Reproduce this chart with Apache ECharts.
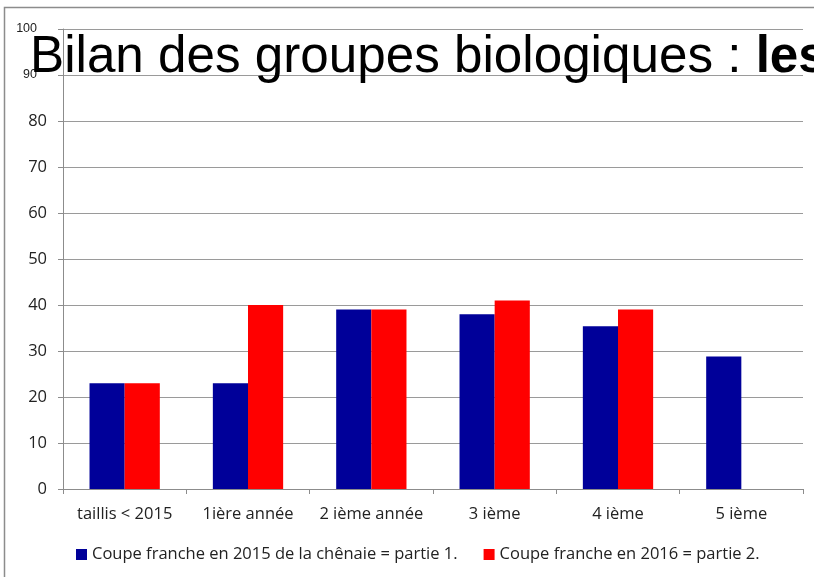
<!DOCTYPE html>
<html>
<head>
<meta charset="utf-8">
<script src="https://cdn.jsdelivr.net/npm/echarts@6/dist/echarts.min.js"></script>
<style>
  html, body { margin: 0; padding: 0; background: #fff; }
  #chart { width: 814px; height: 577px; }
</style>
</head>
<body>
<div id="chart"></div>
<script>
// données
var categories = ['taillis < 2015', '1ière année', '2 ième année', '3 ième', '4 ième', '5 ième'];
var serie2015 = [23, 23, 39, 38, 35.4, 28.8];
var serie2016 = [23, 40, 39, 41, 39, null];
var noms = ['Coupe franche en 2015 de la chênaie = partie 1.', 'Coupe franche en 2016 = partie 2.'];
var yTicks = [0, 10, 20, 30, 40, 50, 60, 70, 80, 90, 100];

var police = '"Open Sans", sans-serif';
var arial = '"Liberation Sans", Arial, sans-serif';

var vm = echarts.init(document.getElementById('chart'));
var option = {
  animation: false,
  backgroundColor: '#fff',
  graphic: [{
    type: 'rect',
    shape: { x: 4.5, y: 7.5, width: 900, height: 700 },
    style: { fill: null, stroke: '#8c8c8c', lineWidth: 1.5 },
    z: 100
  }],
  title: {
    text: '{n|Bilan des groupes biologiques : }{b|les}',
    left: 25,
    top: 27,
    z: 50,
    textStyle: {
      rich: {
        n: { fontFamily: arial, fontSize: 51.2, fontWeight: 'normal', color: '#000' },
        b: { fontFamily: arial, fontSize: 51.2, fontWeight: 'bold', color: '#000' }
      }
    }
  },
  grid: { left: 63, right: 11, top: 29, bottom: 88, containLabel: false },
  legend: {
    left: 71,
    top: 541,
    icon: 'rect',
    itemWidth: 11,
    itemHeight: 11,
    itemGap: 26,
    textStyle: { fontFamily: police, fontSize: 16.5, color: '#222' },
    data: noms
  },
  xAxis: {
    type: 'category',
    data: categories,
    axisLine: { lineStyle: { color: '#8c8c8c' } },
    axisTick: { show: true, length: 5, lineStyle: { color: '#8c8c8c' } },
    axisLabel: { interval: 0, fontFamily: police, fontSize: 16.5, color: '#222', margin: 17 }
  },
  yAxis: {
    type: 'value',
    min: yTicks[0],
    max: yTicks[yTicks.length - 1],
    interval: 10,
    axisLine: { show: true, lineStyle: { color: '#8c8c8c' } },
    axisTick: { show: true, length: 5, lineStyle: { color: '#8c8c8c' } },
    axisLabel: {
      fontFamily: police,
      fontSize: 16.5,
      color: '#222',
      margin: 16,
      formatter: function (v) {
        return v >= 90 ? '{s|' + v + '}' : '' + v;
      },
      rich: {
        s: { fontFamily: arial, fontSize: 12.5, color: '#222', padding: [0, 10, 0, 0] }
      }
    },
    splitLine: { lineStyle: { color: '#9a9a9a' } }
  },
  series: [
    {
      name: noms[0],
      type: 'bar',
      data: serie2015,
      barGap: '0%',
      barCategoryGap: '43%',
      itemStyle: { color: '#000099' }
    },
    {
      name: noms[1],
      type: 'bar',
      data: serie2016,
      itemStyle: { color: '#ff0000' }
    }
  ]
};
vm.setOption(option);
</script>
</body>
</html>
